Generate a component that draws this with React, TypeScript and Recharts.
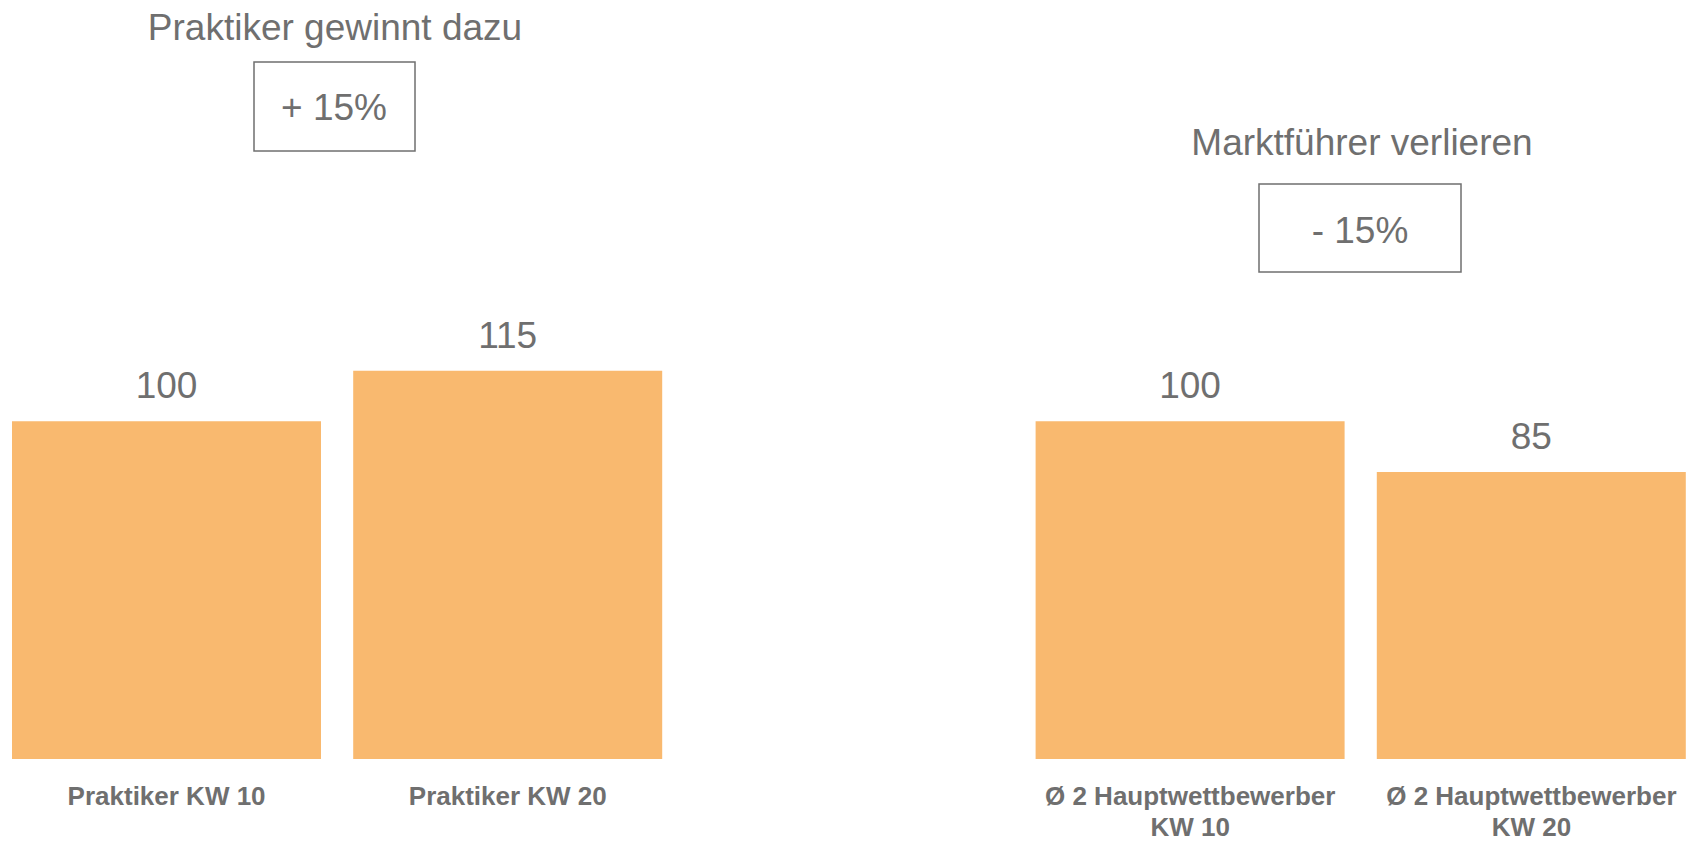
import { BarChart, Bar, XAxis, YAxis, LabelList } from 'recharts';

// Categories (empty slot in the middle separates the two comparisons)
const categories = [
  'Praktiker KW 10',
  'Praktiker KW 20',
  ' ',
  'Ø 2 Hauptwettbewerber\nKW 10',
  'Ø 2 Hauptwettbewerber\nKW 20',
];
const indexValues: (number | null)[] = [100, 115, null, 100, 85];

const groupTitles = ['Praktiker gewinnt dazu', 'Marktführer verlieren'];
const groupChanges = ['+ 15%', '- 15%'];

const chartData = categories.map((name, i) => ({ name, value: indexValues[i] }));

const TEXT_GREY = '#6f6f6f';
const BAR_ORANGE = '#f9b96f';
const FONT = '"Liberation Sans", Arial, sans-serif';

const CategoryTick = (props: any) => {
  const { x, y, payload } = props;
  const lines = String(payload.value).trim().split('\n').filter(Boolean);
  return (
    <g>
      {lines.map((line: string, i: number) => (
        <text
          key={i}
          x={x}
          y={y + 38 + i * 31}
          textAnchor="middle"
          fill={TEXT_GREY}
          fontSize={26}
          fontWeight="bold"
          fontFamily={FONT}
        >
          {line}
        </text>
      ))}
    </g>
  );
};

export default function App() {
  return (
    <div
      style={{
        position: 'fixed',
        left: 0,
        top: 0,
        width: 1688,
        height: 841,
        overflow: 'hidden',
        background: '#ffffff',
        fontFamily: FONT,
      }}
    >
      <div style={{ position: 'absolute', left: -4, top: 0 }}>
        <BarChart
          width={1706}
          height={841}
          data={chartData}
          margin={{ top: 87, right: 0, bottom: 0, left: 0 }}
          barCategoryGap={16}
        >
          <XAxis
            dataKey="name"
            axisLine={false}
            tickLine={false}
            height={82}
            interval={0}
            tick={<CategoryTick />}
          />
          <YAxis hide domain={[0, 199]} />
          <Bar dataKey="value" fill={BAR_ORANGE} isAnimationActive={false}>
            <LabelList
              dataKey="value"
              position="top"
              offset={23}
              fill={TEXT_GREY}
              fontSize={37}
              fontFamily={FONT}
              formatter={(v: any) => (v == null ? '' : v)}
            />
          </Bar>
        </BarChart>
      </div>

      {/* change annotations above each pair of bars */}
      <svg
        width={1688}
        height={841}
        style={{ position: 'absolute', left: 0, top: 0, pointerEvents: 'none' }}
      >
        <text x={335} y={40} textAnchor="middle" fill={TEXT_GREY} fontSize={37} fontFamily={FONT}>
          {groupTitles[0]}
        </text>
        <rect x={254} y={62} width={161} height={89} fill="none" stroke={TEXT_GREY} strokeWidth={1.5} />
        <text x={334} y={120} textAnchor="middle" fill={TEXT_GREY} fontSize={37} fontFamily={FONT}>
          {groupChanges[0]}
        </text>

        <text x={1362} y={155} textAnchor="middle" fill={TEXT_GREY} fontSize={37} fontFamily={FONT}>
          {groupTitles[1]}
        </text>
        <rect x={1259} y={184} width={202} height={88} fill="none" stroke={TEXT_GREY} strokeWidth={1.5} />
        <text x={1360} y={243} textAnchor="middle" fill={TEXT_GREY} fontSize={37} fontFamily={FONT}>
          {groupChanges[1]}
        </text>
      </svg>
    </div>
  );
}
